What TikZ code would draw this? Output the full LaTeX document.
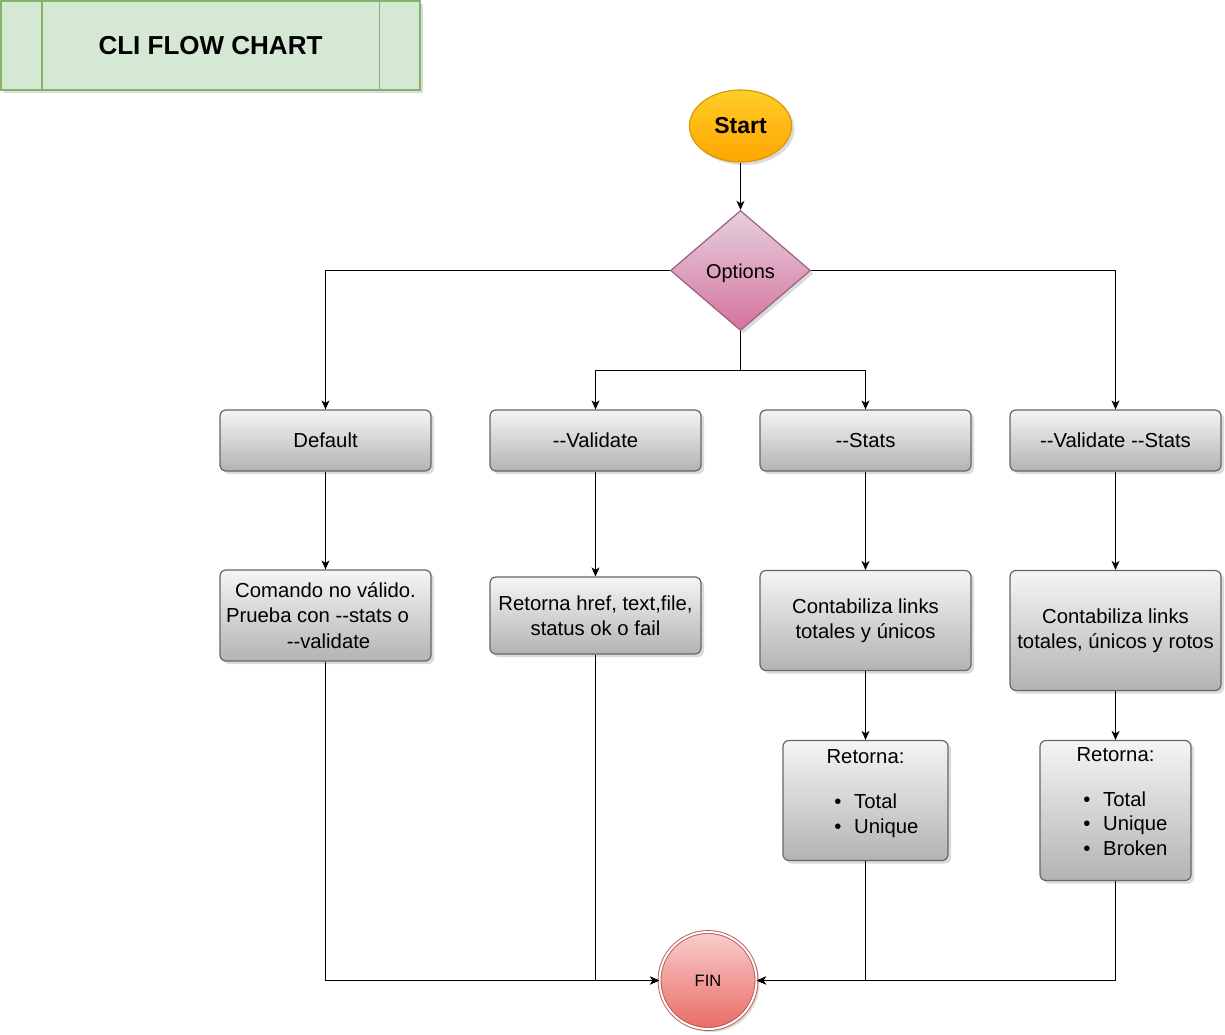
\documentclass[tikz,border=0pt]{standalone}
\usepackage{fontspec}
\setmainfont{Liberation Sans}[Ligatures=TeXOff]
\usetikzlibrary{shapes.geometric,shadows,arrows.meta}
\definecolor{titlefill}{HTML}{D5E8D4}
\definecolor{titlestroke}{HTML}{82B366}
\definecolor{starttop}{HTML}{FFCD28}
\definecolor{startbot}{HTML}{FFA500}
\definecolor{startstroke}{HTML}{D79B00}
\definecolor{opttop}{HTML}{E6D0DE}
\definecolor{optbot}{HTML}{D5739D}
\definecolor{optstroke}{HTML}{996185}
\definecolor{boxtop}{HTML}{F5F5F5}
\definecolor{boxbot}{HTML}{B3B3B3}
\definecolor{boxstroke}{HTML}{666666}
\definecolor{fintop}{HTML}{F8CECC}
\definecolor{finbot}{HTML}{EA6B66}
\definecolor{finstroke}{HTML}{B85450}
\tikzset{
  shade/.style={drop shadow={shadow xshift=3pt,shadow yshift=-3pt,fill=black!28}},
  procbox/.style={rectangle,rounded corners=6pt,draw=boxstroke,line width=1.2pt,
    top color=boxtop,bottom color=boxbot,shade,minimum width=211pt,inner sep=0pt,
    align=center,font=\fontsize{20.3}{25.5}\selectfont},
  conn/.style={draw=black,line width=0.9pt},
  arr/.style={conn,-{Stealth[length=9pt,width=8pt,inset=2.5pt]}},
  txt/.style={inner sep=0pt,font=\fontsize{20.3}{25.5}\selectfont}
}
\begin{document}
\begin{tikzpicture}[x=1pt,y=-1pt]
\useasboundingbox[fill=white] (0,0) rectangle (1225,1035);
% title
\node[rectangle,draw=titlestroke,fill=titlefill,line width=1.2pt,minimum width=419pt,minimum height=89pt,
  drop shadow={shadow xshift=3pt,shadow yshift=-3pt,fill=black!28},
  font=\fontsize{26}{30}\selectfont\bfseries] (title) at (210.5,45.5) {CLI FLOW CHART};
\draw[titlestroke,line width=1.2pt] ([xshift=41.5pt]title.north west) -- ([xshift=41.5pt]title.south west);
\draw[titlestroke,line width=1.2pt] ([xshift=-41.5pt]title.north east) -- ([xshift=-41.5pt]title.south east);
% start
\node[ellipse,draw=startstroke,line width=1.2pt,top color=starttop,bottom color=startbot,shade,
  minimum width=102pt,minimum height=72pt,inner sep=0pt,font=\fontsize{23}{27}\selectfont\bfseries] (start) at (740.5,126) {Start};
% options
\node[diamond,draw=optstroke,line width=1.2pt,top color=opttop,bottom color=optbot,shade,
  minimum width=140pt,minimum height=120pt,inner sep=0pt] (opt) at (740.5,270.5) {};
\node[inner sep=0pt,font=\fontsize{20}{24}\selectfont] (optt) at ([yshift=-2.5pt]opt.center) {Options};
% row 1
\node[procbox,minimum height=61pt] (def) at (325.5,440.5) {Default};
\node[procbox,minimum height=61pt] (val) at (595.5,440.5) {--Validate};
\node[procbox,minimum height=61pt] (sta) at (865.5,440.5) {--Stats};
\node[procbox,minimum height=61pt] (vs) at (1115.5,440.5) {--Validate --Stats};
% row 2
\node[procbox,minimum height=91pt] (com) at (325.5,615.5) {Comando no válido.\\Prueba con --stats o\rule{16pt}{0pt}\\\rule{6pt}{0pt}--validate};
\node[procbox,minimum height=77pt] (rh) at (595.5,615.5) {Retorna href, text,file,\\status ok o fail};
\node[procbox,minimum height=100pt] (c1) at (865.5,620.5) {Contabiliza links\\totales y únicos};
\node[procbox,minimum height=120pt] (c2) at (1115.5,630.5) {Contabiliza links\\totales, únicos y rotos};
% row 3
\node[procbox,minimum width=165pt,minimum height=120pt] (r1) at (865.5,800.5) {};
\node[txt,anchor=base] (r1h) at (865.5,763) {Retorna:};
\node[txt,anchor=base] (r1b1) at (838,808) {•};
\node[txt,anchor=base west] (r1t1) at (854,808) {Total};
\node[txt,anchor=base] (r1b2) at (838,833) {•};
\node[txt,anchor=base west] (r1t2) at (854,833) {Unique};
\node[procbox,minimum width=151pt,minimum height=140pt] (r2) at (1115.5,810.5) {};
\node[txt,anchor=base] (r2h) at (1115.5,761) {Retorna:};
\node[txt,anchor=base] (r2b1) at (1087,806) {•};
\node[txt,anchor=base west] (r2t1) at (1103,806) {Total};
\node[txt,anchor=base] (r2b2) at (1087,830.5) {•};
\node[txt,anchor=base west] (r2t2) at (1103,830.5) {Unique};
\node[txt,anchor=base] (r2b3) at (1087,855) {•};
\node[txt,anchor=base west] (r2t3) at (1103,855) {Broken};
% fin
\node[circle,draw=finstroke,line width=0.9pt,double=white,double distance=2pt,top color=fintop,bottom color=finbot,
  shade,minimum size=97pt,inner sep=0pt,font=\fontsize{16.5}{20}\selectfont] (fin) at (708,980.5) {FIN};
% connectors
\coordinate (split) at (740.5,370.5);
\draw[arr] (start) -- (opt);
\draw[arr] (opt.west) -| (def.north);
\draw[arr] (opt.east) -| (vs.north);
\draw[conn] (opt.south) -- (split);
\draw[arr] (split) -| (val.north);
\draw[arr] (split) -| (sta.north);
\draw[arr] (def) -- (com);
\draw[arr] (val) -- (rh);
\draw[arr] (sta) -- (c1);
\draw[arr] (vs) -- (c2);
\draw[arr] (c1) -- (r1);
\draw[arr] (c2) -- (r2);
\draw[arr] (com.south) |- (fin.west);
\draw[arr] (rh.south) |- (fin.west);
\draw[arr] (r1.south) |- (fin.east);
\draw[arr] (r2.south) |- (fin.east);
\end{tikzpicture}
\end{document}
